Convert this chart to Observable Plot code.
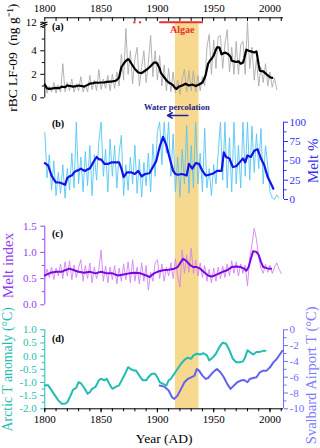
<!DOCTYPE html>
<html><head><meta charset="utf-8">
<script src="https://cdn.jsdelivr.net/npm/d3@7"></script>
<script src="https://cdn.jsdelivr.net/npm/@observablehq/plot@0.6"></script>
<style>
html,body{margin:0;padding:0;background:#fff;}
#chart{position:relative;width:320px;height:448px;overflow:hidden;background:#fff;}
#chart svg{position:absolute;left:0;top:0;}
</style></head><body><div id="chart"></div>
<script>
// ---------- data ----------
const yearTicks = [1800, 1850, 1900, 1950, 2000];
const decadeTicks = [1800,1810,1820,1830,1840,1850,1860,1870,1880,1890,1900,1910,1920,1930,1940,1950,1960,1970,1980,1990,2000,2010];
const warmPeriod = [{start: 1916, end: 1937}];
const algaeSpans = [{start: 1879, end: 1881}, {start: 1884, end: 1886}, {start: 1902, end: 1941}];

const rbcTicks = [0, 2, 4, 12];
const rbcMinor = [1, 3, 5, 6];
const rbcAnnual = [[1800,1.2],[1802,0.4],[1804,1.0],[1806,0.5],[1808,1.3],[1810,0.4],[1812,1.1],[1814,0.5],[1816,2.9],[1818,0.5],[1820,1.3],[1822,0.6],[1824,1.6],[1826,0.5],[1828,1.2],[1830,0.6],[1832,1.8],[1834,0.5],[1836,1.1],[1838,0.5],[1840,1.9],[1842,0.7],[1844,1.5],[1846,0.6],[1848,2.4],[1850,0.7],[1852,1.6],[1854,0.8],[1856,1.9],[1858,0.6],[1860,2.0],[1862,0.8],[1864,2.2],[1866,1.0],[1868,3.7],[1870,1.5],[1872,5.9],[1874,2.0],[1876,4.0],[1878,1.2],[1880,3.3],[1882,4.3],[1884,1.0],[1886,2.6],[1888,4.0],[1890,1.3],[1892,3.0],[1894,5.3],[1896,1.8],[1898,4.0],[1900,1.5],[1902,3.6],[1904,1.0],[1906,2.8],[1908,0.6],[1910,2.5],[1912,0.5],[1914,2.2],[1916,0.4],[1918,1.5],[1920,0.3],[1922,1.6],[1924,2.4],[1926,0.5],[1928,2.3],[1930,0.6],[1932,2.3],[1934,0.5],[1936,1.9],[1938,0.6],[1940,1.8],[1942,1.0],[1944,4.3],[1946,5.4],[1948,2.0],[1950,4.9],[1952,2.5],[1954,5.2],[1956,5.3],[1958,2.5],[1960,4.6],[1962,5.8],[1964,2.2],[1966,4.3],[1968,2.0],[1970,4.8],[1972,2.0],[1974,4.5],[1976,4.8],[1978,2.0],[1980,12],[1982,2.5],[1984,4.3],[1986,1.5],[1988,3.3],[1990,1.0],[1992,2.6],[1994,1.3],[1996,2.9],[1998,1.0],[2000,2.2],[2002,0.9],[2004,1.7],[2006,0.7]];
const rbcSmooth = [[1800,1.13],[1802,0.8],[1804,0.76],[1807,0.8],[1810,0.85],[1813,0.82],[1815,0.95],[1818,0.9],[1820,1.05],[1823,1.0],[1825,0.95],[1828,1.0],[1830,1.05],[1833,1.0],[1835,0.95],[1838,1.1],[1840,1.2],[1843,1.25],[1845,1.3],[1848,1.28],[1850,1.3],[1853,1.32],[1855,1.35],[1858,1.38],[1860,1.4],[1863,1.45],[1865,1.6],[1866,1.75],[1868,2.6],[1870,2.9],[1872,3.15],[1874,3.3],[1875,3.2],[1877,2.9],[1880,2.45],[1883,2.15],[1886,2.1],[1889,2.3],[1891,2.45],[1893,2.6],[1895,2.8],[1897,3.0],[1899,3.0],[1900,2.9],[1902,2.5],[1903,2.15],[1906,1.75],[1908,1.5],[1910,1.3],[1912,1.2],[1914,1.05],[1916,0.8],[1917,0.76],[1919,0.95],[1922,1.05],[1925,1.2],[1928,1.05],[1931,1.13],[1934,1.0],[1937,1.13],[1940,1.3],[1942,1.7],[1943,2.0],[1945,2.9],[1947,3.2],[1948,3.3],[1950,3.6],[1952,4.1],[1953,4.3],[1955,4.3],[1957,3.7],[1960,3.85],[1963,3.7],[1965,3.5],[1966,3.15],[1968,3.1],[1970,3.05],[1972,3.1],[1974,2.9],[1976,3.0],[1977,3.3],[1979,4.1],[1981,4.0],[1983,3.95],[1986,3.85],[1988,3.95],[1990,2.8],[1991,2.3],[1994,2.25],[1997,2.0],[2000,1.75],[2002,1.7]];

const meltPctTicks = [0, 25, 50, 75, 100];
const meltPctMinor = [12.5, 37.5, 62.5, 87.5];
const meltPctAnnual = [[1800,87],[1802,28],[1804,58],[1806,12],[1808,50],[1810,5],[1812,35],[1814,8],[1816,45],[1818,2],[1820,40],[1822,12],[1824,60],[1826,15],[1828,100],[1830,20],[1832,55],[1834,10],[1836,62],[1838,18],[1840,70],[1842,5],[1844,58],[1846,25],[1848,75],[1850,100],[1852,30],[1854,65],[1856,10],[1858,78],[1860,30],[1862,70],[1864,15],[1866,60],[1868,83],[1870,5],[1872,45],[1874,12],[1876,55],[1878,20],[1880,70],[1882,8],[1884,52],[1886,3],[1888,48],[1890,18],[1892,60],[1894,10],[1896,72],[1898,30],[1900,88],[1902,100],[1904,45],[1906,100],[1908,60],[1910,100],[1912,30],[1914,85],[1916,10],[1918,55],[1920,3],[1922,65],[1924,20],[1926,96],[1928,8],[1930,70],[1932,15],[1934,100],[1936,20],[1938,60],[1940,10],[1942,92],[1944,15],[1946,40],[1948,5],[1950,45],[1952,20],[1954,60],[1956,100],[1958,25],[1960,100],[1962,15],[1964,80],[1966,10],[1968,100],[1970,20],[1972,70],[1974,15],[1976,100],[1978,30],[1980,100],[1982,25],[1984,95],[1986,35],[1988,85],[1990,40],[1992,92],[1994,20],[1996,70],[1998,44],[2000,10],[2002,2],[2004,0],[2006,6],[2008,2]];
const meltPctSmooth = [[1800,47],[1803,44],[1806,31],[1808,26],[1810,22],[1813,22],[1815,21],[1818,19],[1820,28],[1822,30],[1824,31],[1826,35],[1828,37],[1830,38],[1832,40],[1834,38],[1836,37],[1838,39],[1840,40],[1843,48],[1846,55],[1848,52],[1850,52],[1853,46],[1856,46],[1859,48],[1863,48],[1866,48],[1868,40],[1870,29],[1873,35],[1877,35],[1880,33],[1883,37],[1886,30],[1889,33],[1893,34],[1896,42],[1899,50],[1902,68],[1905,81],[1908,70],[1911,53],[1914,37],[1916,33],[1918,32],[1922,33],[1926,31],[1928,46],[1931,40],[1934,47],[1937,46],[1940,37],[1943,31],[1946,32],[1950,34],[1953,37],[1957,37],[1959,61],[1961,55],[1964,53],[1967,42],[1970,43],[1973,48],[1976,53],[1978,48],[1980,57],[1983,55],[1986,63],[1989,65],[1992,53],[1995,44],[1998,29],[2001,20],[2003,14]];

const meltIdxTicks = [0, 0.5, 1, 1.5];
const meltIdxMinor = [0.25, 0.75, 1.25];
const meltIdxAnnual = [[1800,0.5],[1802,0.68],[1804,0.52],[1806,0.72],[1808,0.48],[1810,0.7],[1812,0.55],[1814,0.78],[1816,0.5],[1818,0.82],[1820,0.55],[1822,0.84],[1824,0.48],[1826,0.76],[1828,0.52],[1830,0.7],[1832,0.86],[1834,0.45],[1836,0.75],[1838,0.5],[1840,0.8],[1842,0.42],[1844,0.72],[1846,0.5],[1848,0.68],[1850,1.04],[1852,0.45],[1854,0.74],[1856,0.42],[1858,0.72],[1860,0.48],[1862,0.75],[1864,0.4],[1866,0.7],[1868,0.45],[1870,0.78],[1872,0.48],[1874,0.82],[1876,0.42],[1878,0.86],[1880,0.45],[1882,0.72],[1884,0.4],[1886,0.8],[1888,0.45],[1890,0.75],[1892,0.28],[1894,0.62],[1896,0.45],[1898,0.8],[1900,0.86],[1902,0.5],[1904,0.78],[1906,0.45],[1908,0.72],[1910,0.55],[1912,0.8],[1914,0.5],[1916,0.88],[1918,0.55],[1920,0.34],[1922,1.04],[1924,0.6],[1926,0.95],[1928,0.62],[1930,1.08],[1932,0.6],[1934,0.85],[1936,0.55],[1938,0.8],[1940,0.52],[1942,0.75],[1944,0.45],[1946,0.68],[1948,0.42],[1950,0.7],[1952,0.45],[1954,0.72],[1956,0.5],[1958,0.74],[1960,0.52],[1962,0.78],[1964,0.55],[1966,0.84],[1968,0.6],[1970,0.82],[1972,0.55],[1974,0.78],[1976,0.6],[1978,0.76],[1980,0.36],[1982,0.9],[1984,1.15],[1986,1.46],[1988,1.25],[1990,0.9],[1992,0.7],[1994,0.6],[1996,0.78],[1998,0.62],[2000,0.76],[2002,0.6],[2004,0.72],[2006,0.8],[2008,0.68],[2010,0.6]];
const meltIdxSmooth = [[1800,0.56],[1805,0.61],[1810,0.63],[1815,0.63],[1818,0.66],[1822,0.69],[1826,0.66],[1830,0.63],[1835,0.61],[1840,0.63],[1845,0.6],[1850,0.63],[1855,0.6],[1860,0.6],[1865,0.56],[1870,0.58],[1875,0.6],[1880,0.61],[1885,0.6],[1890,0.56],[1893,0.53],[1897,0.6],[1900,0.63],[1905,0.66],[1910,0.67],[1915,0.69],[1918,0.72],[1921,0.82],[1923,0.88],[1926,0.83],[1929,0.76],[1932,0.72],[1935,0.72],[1938,0.69],[1941,0.63],[1945,0.56],[1948,0.54],[1951,0.56],[1955,0.6],[1958,0.63],[1962,0.66],[1966,0.72],[1970,0.73],[1974,0.72],[1977,0.69],[1979,0.65],[1981,0.72],[1983,0.88],[1985,1.02],[1988,1.01],[1990,0.95],[1992,0.82],[1994,0.72],[1997,0.7],[1999,0.69],[2001,0.69]];

const arcticTicks = [-2, -1.5, -1, -0.5, 0, 0.5, 1];
const arcticMinor = [-1.75, -1.25, -0.75, -0.25, 0.25, 0.75];
const arcticT = [[1800,-1.11],[1803,-1.11],[1806,-1.3],[1809,-1.49],[1812,-1.68],[1815,-1.81],[1818,-1.81],[1820,-1.75],[1823,-1.49],[1825,-1.28],[1828,-1.2],[1830,-0.99],[1832,-1.03],[1835,-1.2],[1838,-1.43],[1840,-1.37],[1842,-1.24],[1845,-1.17],[1848,-0.92],[1850,-0.86],[1853,-0.92],[1855,-0.86],[1858,-1.11],[1860,-1.24],[1863,-1.17],[1866,-1.11],[1869,-0.86],[1872,-0.61],[1874,-0.42],[1876,-0.48],[1879,-0.55],[1881,-0.55],[1884,-0.74],[1887,-0.92],[1890,-0.92],[1892,-0.8],[1895,-0.67],[1898,-0.67],[1900,-0.8],[1902,-0.99],[1905,-1.05],[1908,-1.11],[1910,-0.92],[1912,-0.86],[1915,-0.67],[1918,-0.48],[1921,-0.29],[1924,-0.14],[1927,-0.06],[1930,-0.1],[1932,0.03],[1935,0.09],[1938,0.06],[1941,0.11],[1944,0.03],[1946,-0.16],[1949,-0.06],[1952,0.09],[1955,0.34],[1958,0.51],[1961,0.47],[1964,0.22],[1967,-0.1],[1970,-0.23],[1973,-0.23],[1976,-0.2],[1978,-0.04],[1980,0.22],[1982,0.16],[1985,0.06],[1988,0.16],[1991,0.16],[1994,0.2],[1996,0.2]];

const svalTicks = [-10, -8, -6, -4, -2, 0];
const svalMinor = [-9, -7, -5, -3, -1];
const svalbardT = [[1902,-7.06],[1906,-7.19],[1910,-7.69],[1913,-8.53],[1915,-8.74],[1918,-8.3],[1921,-7.48],[1924,-6.64],[1927,-6.22],[1930,-6.01],[1933,-5.8],[1935,-4.96],[1937,-5.17],[1940,-5.8],[1943,-6.22],[1945,-6.1],[1948,-5.6],[1951,-5.17],[1953,-4.96],[1956,-5.38],[1959,-6.01],[1962,-6.85],[1965,-7.48],[1968,-7.06],[1971,-6.64],[1974,-6.43],[1977,-6.35],[1980,-6.64],[1982,-6.22],[1985,-6.1],[1988,-6.01],[1991,-5.38],[1994,-5.17],[1997,-5.17],[2000,-4.75],[2003,-4.12],[2006,-3.7],[2009,-3.07],[2011,-2.65]];

// ---------- layout ----------
const FONT = '"Liberation Serif","Times New Roman",serif';
const W = 320, H = 448;
const X = d => d[0], Y = d => d[1];
function layer(top, bottom, yOpts, marks, xAxis) {
  const x = {domain: [1800, 2012], label: null};
  if (!xAxis) x.axis = null;
  return Plot.plot({
    width: W, height: H,
    marginLeft: 44.3, marginRight: 37, marginTop: top, marginBottom: H - bottom,
    x, y: Object.assign({label: null}, yOpts),
    style: {background: "transparent", overflow: "visible", fontFamily: FONT, fontSize: "11px"},
    marks
  });
}
const vlabel = (txt, anchor, dx, fill, size, dy = 0) =>
  Plot.text([txt], {frameAnchor: anchor, dx, dy, rotate: -90, text: d => d, textAnchor: "middle", lineAnchor: "middle", fill, fontSize: size});

const cBlue = "#2f2fff", cViolet = "#9a3cf5", cTeal = "#1fbdb3", cPeri = "#6f6fff";

const band = layer(22, 408.3, {domain: [0, 1], axis: null}, [
  Plot.rect(warmPeriod, {x1: "start", x2: "end", y1: 0, y2: 1, fill: "#f6d98e"})
]);

const topAxis = layer(17.3, 21, {domain: [0, 1], axis: null}, [
  Plot.ruleY([1], {stroke: "#000"}),
  Plot.tickX(decadeTicks, {stroke: "#000"}),
  Plot.axisX({anchor: "top", ticks: yearTicks, tickSize: 0, tickPadding: 6, tickFormat: d => String(d), label: null})
], true);

const panelA = layer(17.3, 97.3, {type: "linear", domain: [0, 6, 12], range: [97.3, 26.8, 21.8]}, [
  Plot.ruleX([1800], {y1: 0, y2: 12, stroke: "#000"}),
  Plot.axisY({anchor: "left", ticks: rbcTicks, tickSize: 4, tickPadding: 4, tickFormat: d => String(d), label: null}),
  Plot.axisY({anchor: "left", ticks: rbcMinor, tickSize: 2.5, tickFormat: () => "", label: null}),
  Plot.link([0], {x1: 1796, x2: 1802.3, y1: 6.4, y2: 9.6, stroke: "#000", strokeWidth: 1.2}),
  Plot.link([0], {x1: 1796, x2: 1802.3, y1: 9.2, y2: 12.4, stroke: "#000", strokeWidth: 1.2}),
  Plot.line(rbcAnnual, {x: X, y: Y, stroke: "#ababab", strokeWidth: 0.9}),
  Plot.line(rbcSmooth, {x: X, y: Y, stroke: "#000", strokeWidth: 2.2}),
  Plot.ruleY(algaeSpans, {x1: "start", x2: "end", y: 12, stroke: "#e8302e", strokeWidth: 2}),
  Plot.text(["Algae"], {x: 1922, y: 12, dy: 7, text: d => d, fill: "#e8302e", fontWeight: "bold", fontSize: 10}),
  Plot.text(["(a)"], {x: 1806.3, y: 12, dy: 4.5, text: d => d, textAnchor: "start", fontWeight: "bold", fontSize: 10}),
  vlabel("rBC LF-09  (ng g\u207B\u00B9)", "left", -32, "#000", 13.5)
]);

const panelB = layer(121.7, 199, {domain: [0, 100]}, [
  Plot.ruleX([2012], {y1: 0, y2: 100, stroke: cBlue}),
  Plot.axisY({anchor: "right", ticks: meltPctTicks, tickSize: 4, tickPadding: 2, tickFormat: d => String(d), color: cBlue, label: null}),
  Plot.axisY({anchor: "right", ticks: meltPctMinor, tickSize: 2.5, tickFormat: () => "", color: cBlue, label: null}),
  Plot.line(meltPctAnnual, {x: X, y: Y, stroke: "#56c6f4", strokeWidth: 0.9}),
  Plot.line(meltPctSmooth, {x: X, y: Y, stroke: "#1414e6", strokeWidth: 2.2}),
  Plot.text(["(b)"], {x: 1806.3, y: 100, dy: 1.5, text: d => d, textAnchor: "start", fontWeight: "bold", fontSize: 10}),
  Plot.text(["Water percolation"], {x: 1917.3, frameAnchor: "top", dy: -14.7, lineAnchor: "middle", text: d => d, fill: "#1c1c8a", fontWeight: "bold", fontSize: 8.5}),
  Plot.arrow([0], {x1: 1927, x2: 1909, y1: 108.7, y2: 108.7, stroke: "#2323a0", strokeWidth: 1.6, headLength: 5}),
  vlabel("Melt %", "right", 30, "#3333ee", 15)
]);

const panelC = layer(225.7, 304.3, {domain: [0, 1.5]}, [
  Plot.ruleX([1800], {y1: 0, y2: 1.5, stroke: cViolet}),
  Plot.axisY({anchor: "left", ticks: meltIdxTicks, tickSize: 4, tickPadding: 4, tickFormat: d => d.toFixed(1), color: cViolet, label: null}),
  Plot.axisY({anchor: "left", ticks: meltIdxMinor, tickSize: 2.5, tickFormat: () => "", color: cViolet, label: null}),
  Plot.line(meltIdxAnnual, {x: X, y: Y, stroke: "#d184f2", strokeWidth: 0.9}),
  Plot.line(meltIdxSmooth, {x: X, y: Y, stroke: "#7a06e0", strokeWidth: 2}),
  Plot.text(["(c)"], {x: 1806.3, y: 1.5, dy: 8, text: d => d, textAnchor: "start", fontWeight: "bold", fontSize: 10}),
  vlabel("Melt index", "left", -37, "#9340f0", 15)
]);

const panelD1 = layer(329.3, 408.3, {domain: [-2, 1]}, [
  Plot.ruleX([1800], {y1: -2, y2: 1, stroke: cTeal}),
  Plot.ruleY([-2], {stroke: "#000"}),
  Plot.axisY({anchor: "left", ticks: arcticTicks, tickSize: 4, tickPadding: 4, tickFormat: d => d.toFixed(1), color: cTeal, label: null}),
  Plot.axisY({anchor: "left", ticks: arcticMinor, tickSize: 2.5, tickFormat: () => "", color: cTeal, label: null}),
  Plot.axisX({anchor: "bottom", ticks: yearTicks, tickSize: 4, tickPadding: 2, tickFormat: d => String(d), label: null}),
  Plot.axisX({anchor: "bottom", ticks: decadeTicks, tickSize: 3, tickFormat: () => "", label: null}),
  Plot.line(arcticT, {x: X, y: Y, stroke: cTeal, strokeWidth: 2}),
  Plot.text(["(d)"], {x: 1806.3, y: 1, dy: 8.5, text: d => d, textAnchor: "start", fontWeight: "bold", fontSize: 10}),
  vlabel("Arctic T anomaly (\u00B0C)", "left", -37, cTeal, 13.8),
  Plot.text(["Year (AD)"], {frameAnchor: "bottom", dy: 30, lineAnchor: "middle", text: d => d, fontSize: 13.5})
], true);

const panelD2 = layer(329.3, 408.3, {domain: [-10, 0]}, [
  Plot.ruleX([2012], {y1: -10, y2: 0, stroke: cPeri}),
  Plot.axisY({anchor: "right", ticks: svalTicks, tickSize: 4, tickPadding: 2, tickFormat: d => String(d), color: cPeri, label: null}),
  Plot.axisY({anchor: "right", ticks: svalMinor, tickSize: 2.5, tickFormat: () => "", color: cPeri, label: null}),
  Plot.line(svalbardT, {x: X, y: Y, stroke: "#6262f2", strokeWidth: 2}),
  vlabel("Svalbard Airport T (\u00B0C)", "right", 28, "#7b7bff", 14.5, 6)
]);

const chart = document.getElementById("chart");
[band, topAxis, panelA, panelB, panelC, panelD1, panelD2].forEach(s => chart.appendChild(s));
</script></body></html>
